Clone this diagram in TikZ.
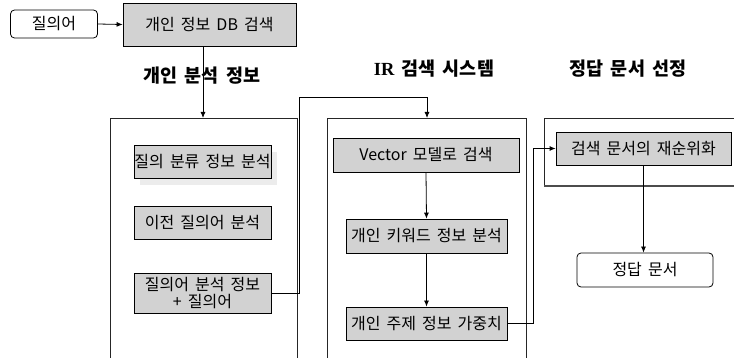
\documentclass[tikz,border=0pt]{standalone}
\usepackage{fontspec}
\setmainfont[WordSpace=1.7]{Noto Sans CJK KR}
\newfontfamily\serifb{Liberation Serif}
\usetikzlibrary{arrows.meta}
\begin{document}
\begin{tikzpicture}[x=1pt,y=-1pt,
  graybox/.style={draw=black,fill=gray!35,line width=0.8pt,inner sep=0pt,font=\fontsize{16}{17}\selectfont,align=center},
  roundbox/.style={draw=black,fill=white,rounded corners=4pt,line width=0.8pt,inner sep=0pt,font=\fontsize{16}{17}\selectfont},
  heading/.style={font=\fontsize{18.5}{22}\selectfont\bfseries,inner sep=0pt},
  frame/.style={draw=black!85,line width=0.8pt},
  conn/.style={draw=black,line width=0.8pt},
  arr/.style={conn,-{Latex[length=6pt,width=5pt]}}]
\useasboundingbox (0,0) rectangle (734,358);
% frames
\draw[frame] (110,360) -- (110,118) -- (297,118) -- (297,360);
\draw[frame] (327,360) -- (327,118) -- (526,118) -- (526,360);
\draw[frame] (736,118) -- (544,118) -- (544,186);
\draw[draw=black!70,line width=1.4pt] (544,186) -- (736,186);
% headings
\node[heading] (h1) at (202,76) {개인 분석 정보};
\node[heading] (h2) at (434,69) {{\serifb\bfseries IR} 검색 시스템};
\node[heading] (h3) at (628,69) {정답 문서 선정};
% top row
\node[roundbox,minimum width=87pt,minimum height=28pt] (q) at (54,24) {질의어};
\node[graybox,minimum width=173pt,minimum height=43pt] (db) at (209.5,24.5) {개인 정보 DB 검색};
% left column
\fill[gray!15] (140,152) rectangle (277,185);
\node[graybox,minimum width=137pt,minimum height=33pt] (c1) at (202.5,161.5) {};
\node[font=\fontsize{16}{17}\selectfont,inner sep=0pt] (c1t) at (c1.center) {질의 분류 정보 분석};
\node[graybox,minimum width=137pt,minimum height=33pt] (c2) at (202.5,222.5) {이전 질의어 분석};
\node[graybox,minimum width=137pt,minimum height=40pt] (c3) at (202.5,293) {질의어 분석 정보\\+ 질의어};
% middle column
\node[graybox,minimum width=186pt,minimum height=34pt] (v) at (426,155) {Vector 모델로 검색};
\node[graybox,minimum width=161pt,minimum height=34pt] (k) at (426.5,236) {개인 키워드 정보 분석};
\node[graybox,minimum width=161pt,minimum height=33pt] (w) at (426.5,323.5) {개인 주제 정보 가중치};
% right column
\node[graybox,minimum width=175pt,minimum height=33pt] (r) at (643.5,148.5) {검색 문서의 재순위화};
\node[roundbox,minimum width=136pt,minimum height=34pt] (a) at (645,270) {정답 문서};
% helper coordinates
\coordinate (p1) at (299,293);
\coordinate (p2) at (299,97);
\coordinate (p3) at (427,97);
\coordinate (irtop) at (427,118);
\coordinate (lefttop) at (203,118);
\coordinate (p4) at (533,323.5);
\coordinate (p5) at (533,148.5);
% connectors
\draw[arr] (q.east) -- (db.west);
\draw[arr] (db.south -| lefttop) -- (lefttop);
\draw[arr] (c3.east) -- (p1) -- (p2) -- (p3) -- (irtop);
\draw[arr] (v.south) -- (k.north);
\draw[arr] (k.south) -- (w.north);
\draw[arr] (w.east) -- (p4) -- (p5) -- (r.west);
\draw[arr] (r.south) -- (r.south |- a.north);
\end{tikzpicture}
\end{document}
